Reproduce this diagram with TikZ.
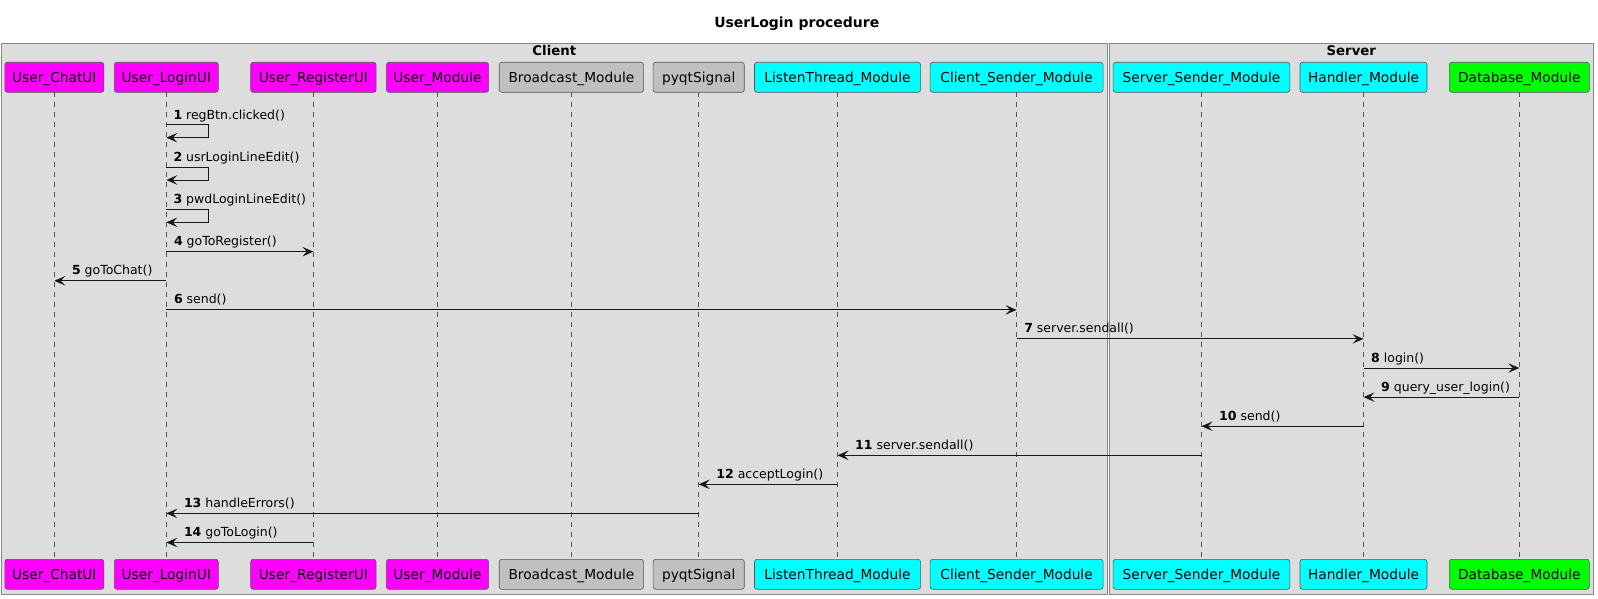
\documentclass[tikz,border=0pt]{standalone}
\usepackage{fontspec}
\setmainfont{DejaVu Sans}
\usetikzlibrary{arrows.meta,calc}

\definecolor{framefill}{HTML}{DDDDDD}
\definecolor{frameline}{HTML}{888888}
\definecolor{boxline}{HTML}{555555}
\definecolor{ink}{HTML}{181818}
\definecolor{uibox}{HTML}{FF00FF}
\definecolor{silverbox}{HTML}{C0C0C0}
\definecolor{netbox}{HTML}{00FFFF}
\definecolor{dbbox}{HTML}{00FF00}

\tikzset{
  actor/.style={draw=boxline, line width=0.6pt, rounded corners=2.5pt,
    minimum height=30pt, inner sep=0pt, text height=10pt, text depth=0pt,
    font=\fontsize{13.75}{16}\selectfont, text=black},
  lifeline/.style={draw=boxline, line width=0.7pt, dash pattern=on 5pt off 5pt},
  msg/.style={draw=ink, line width=1pt,
    -{Stealth[length=11pt,width=9.5pt,inset=4.5pt]}},
  msglbl/.style={font=\fontsize{12.5}{15}\selectfont, anchor=base west,
    inner sep=0pt, text=black},
  group/.style={draw=frameline, fill=framefill, line width=1pt},
  grouplbl/.style={font=\bfseries\fontsize{13.3}{16}\selectfont, anchor=base,
    inner sep=0pt},
}

\begin{document}
\begin{tikzpicture}[x=1pt,y=-1pt]
\useasboundingbox (0,0) rectangle (1598,599);
\fill[white] (0,0) rectangle (1598,599);

% title
\node[font=\bfseries\fontsize{14}{17}\selectfont, anchor=base, inner sep=0pt]
  (title) at (796.8,28) {UserLogin procedure};

% group frames
\path[group] (1.7,43.3) rectangle (1107,594.3);
\path[group] (1109.3,43.3) rectangle (1593.3,594.3);
\node[grouplbl] (clientlbl) at (554.3,55.5) {Client};
\node[grouplbl] (serverlbl) at (1351.3,55.5) {Server};

% participants: name / lifeline x / box width / fill / label
\foreach \n/\x/\w/\c/\t in {
  chat/54.3/99/uibox/User\_ChatUI,
  login/166.3/104/uibox/User\_LoginUI,
  reg/313.4/125.4/uibox/User\_RegisterUI,
  umod/437.5/102.2/uibox/User\_Module,
  bcast/571.4/144.3/silverbox/Broadcast\_Module,
  pyqt/698.7/91.1/silverbox/pyqtSignal,
  listen/837.5/166.1/netbox/ListenThread\_Module,
  csend/1016.6/172.9/netbox/Client\_Sender\_Module,
  ssend/1201.5/176.7/netbox/Server\_Sender\_Module,
  handler/1363.5/127/netbox/Handler\_Module,
  db/1519.3/140/dbbox/Database\_Module}{
  \draw[lifeline] (\x,92.3) -- (\x,559.3);
  \node[actor, fill=\c, minimum width=\w pt] (\n-top) at (\x,77.3) {\t};
  \node[actor, fill=\c, minimum width=\w pt] (\n-bot) at (\x,574.3) {\t};
}

% message rows
\foreach \k/\y in {1/124.7,2/167.0,3/209.3,4/251.7,5/280.8,6/309.9,7/338.9,
  8/368.0,9/397.1,10/426.2,11/455.3,12/484.3,13/513.4,14/542.5}{
  \coordinate (m\k) at (0,\y);
}

% self messages on User_LoginUI
\foreach \k/\t in {1/regBtn.clicked(),2/usrLoginLineEdit(),3/pwdLoginLineEdit()}{
  \draw[msg] (login-top |- m\k) -- ++(42,0) -- ++(0,13) -- ++(-42,0);
  \node[msglbl] (l\k) at ($(login-top |- m\k)+(7,-5.5)$) {\textbf{\k} \t};
}

% messages to the right: label after the sender
\foreach \k/\a/\b/\t in {
  4/login/reg/goToRegister(),
  6/login/csend/send(),
  7/csend/handler/server.sendall(),
  8/handler/db/login()}{
  \draw[msg] (\a-top |- m\k) -- (\b-top |- m\k);
  \node[msglbl] (l\k) at ($(\a-top |- m\k)+(7.5,-6)$) {\textbf{\k} \t};
}

% messages to the left: label after the arrow tip
\foreach \k/\a/\b/\t in {
  5/login/chat/goToChat(),
  9/db/handler/query\_user\_login(),
  10/handler/ssend/send(),
  11/ssend/listen/server.sendall(),
  12/listen/pyqt/acceptLogin(),
  13/pyqt/login/handleErrors(),
  14/reg/login/goToLogin()}{
  \draw[msg] (\a-top |- m\k) -- (\b-top |- m\k);
  \node[msglbl] (l\k) at ($(\b-top |- m\k)+(17.5,-6)$) {\textbf{\k} \t};
}
\end{tikzpicture}
\end{document}
